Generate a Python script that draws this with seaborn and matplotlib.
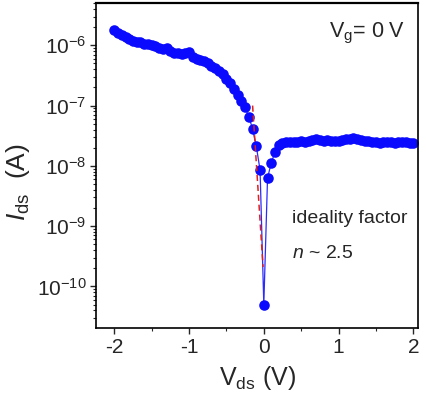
import numpy as np
import pandas as pd
import matplotlib
matplotlib.use("Agg")
import matplotlib.pyplot as plt
import seaborn as sns
from matplotlib.ticker import LogLocator, NullFormatter, MultipleLocator

# ---- data ----
vds = [-2.00, -1.95, -1.90, -1.85, -1.80, -1.75, -1.70, -1.65, -1.60, -1.55,
       -1.50, -1.45, -1.40, -1.35, -1.30, -1.25, -1.20, -1.15, -1.10, -1.05,
       -1.00, -0.95, -0.90, -0.85, -0.80, -0.75, -0.70, -0.65, -0.60, -0.55,
       -0.50, -0.45, -0.40, -0.35, -0.30, -0.25, -0.20, -0.15, -0.10, -0.05,
       0.00, 0.05, 0.10, 0.15, 0.20, 0.25, 0.30, 0.35, 0.40, 0.45,
       0.50, 0.55, 0.60, 0.65, 0.70, 0.75, 0.80, 0.85, 0.90, 0.95,
       1.00, 1.05, 1.10, 1.15, 1.20, 1.25, 1.30, 1.35, 1.40, 1.45,
       1.50, 1.55, 1.60, 1.65, 1.70, 1.75, 1.80, 1.85, 1.90, 1.95, 2.00]
ids = [1.78e-6, 1.62e-6, 1.48e-6, 1.38e-6, 1.29e-6, 1.20e-6, 1.15e-6, 1.12e-6, 1.07e-6, 1.05e-6,
       1.02e-6, 9.8e-7, 9.1e-7, 8.7e-7, 8.9e-7, 7.9e-7, 7.4e-7, 7.4e-7, 7.2e-7, 7.4e-7,
       7.6e-7, 6.5e-7, 6.0e-7, 5.6e-7, 5.4e-7, 5.0e-7, 4.6e-7, 4.2e-7, 3.7e-7, 3.3e-7,
       2.8e-7, 2.4e-7, 1.9e-7, 1.5e-7, 1.2e-7, 9.3e-8, 6.5e-8, 4.1e-8, 2.1e-8, 8.5e-9,
       5.0e-11, 6.3e-9, 1.12e-8, 1.70e-8, 2.19e-8, 2.40e-8, 2.51e-8, 2.51e-8, 2.45e-8, 2.51e-8,
       2.57e-8, 2.51e-8, 2.63e-8, 2.69e-8, 2.75e-8, 2.69e-8, 2.63e-8, 2.69e-8, 2.63e-8, 2.57e-8,
       2.63e-8, 2.69e-8, 2.75e-8, 2.82e-8, 2.88e-8, 2.75e-8, 2.69e-8, 2.63e-8, 2.57e-8, 2.51e-8,
       2.45e-8, 2.40e-8, 2.45e-8, 2.51e-8, 2.45e-8, 2.40e-8, 2.45e-8, 2.51e-8, 2.45e-8, 2.40e-8, 2.40e-8]
fit_v = [-0.15, -0.01]
fit_i = [1.0e-7, 2.1e-10]
x_ticks = [-2, -1, 0, 1, 2]

df = pd.DataFrame({"Vds": vds, "Ids": ids})
fit_df = pd.DataFrame({"Vds": fit_v, "Ids": fit_i})

sns.set_style("ticks")
plt.rcParams["font.family"] = ["Liberation Sans", "DejaVu Sans"]
plt.rcParams["mathtext.fontset"] = "custom"
plt.rcParams["mathtext.rm"] = "Liberation Sans"
plt.rcParams["mathtext.it"] = "Liberation Sans:italic"
plt.rcParams["mathtext.bf"] = "Liberation Sans:bold"

fig = plt.figure(figsize=(4.26, 3.96), dpi=100)
ax = fig.add_axes([0.2254, 0.1717, 0.7558, 0.8203])

sns.lineplot(data=df, x="Vds", y="Ids", ax=ax, color="#2b2bff", linewidth=0.9,
             marker="o", markersize=7.6, markerfacecolor="#0a0aff",
             markeredgewidth=0, sort=False, estimator=None)
sns.lineplot(data=fit_df, x="Vds", y="Ids", ax=ax, color="#e0201a",
             linewidth=1.1, linestyle=(0, (4, 2.5)), sort=False, estimator=None)

ax.set_yscale("log")
ax.set_xlim(-2.245, 2.063)
ax.set_ylim(2.04e-11, 5.0e-6)
ax.set_xticks(x_ticks)
ax.set_xticklabels([str(t) for t in x_ticks])
ax.xaxis.set_minor_locator(MultipleLocator(0.5))
ax.yaxis.set_major_locator(LogLocator(base=10, numticks=20))
ax.yaxis.set_minor_locator(LogLocator(base=10, subs=np.arange(2, 10), numticks=20))
ax.yaxis.set_minor_formatter(NullFormatter())

ax.tick_params(axis="both", which="major", direction="out", length=4, width=1.0,
               labelsize=15, pad=3, top=False, right=False)
ax.tick_params(axis="both", which="minor", direction="out", length=2, width=0.8,
               top=False, right=False)
for s in ax.spines.values():
    s.set_linewidth(1.2)
    s.set_color("black")
ax.spines["top"].set_linewidth(1.6)

ax.set_xlabel(r"V$_{\mathrm{ds}}$ (V)", fontsize=18, labelpad=5)
ax.set_ylabel(r"$\mathit{I}_{\mathrm{ds}}$  (A)", fontsize=19)
ax.yaxis.set_label_coords(-0.198, 0.45)

ax.text(0.724, 0.895, r"V$_{\mathrm{g}}$= 0 V", transform=ax.transAxes,
        fontsize=15.5, ha="left", va="baseline")
ax.text(0.609, 0.323, "ideality factor", transform=ax.transAxes,
        fontsize=14, ha="left", va="baseline")
ax.text(0.609, 0.215, r"$\mathit{n}$ ~ 2.5", transform=ax.transAxes,
        fontsize=14, ha="left", va="baseline")

fig.savefig("out.png", dpi=100)
